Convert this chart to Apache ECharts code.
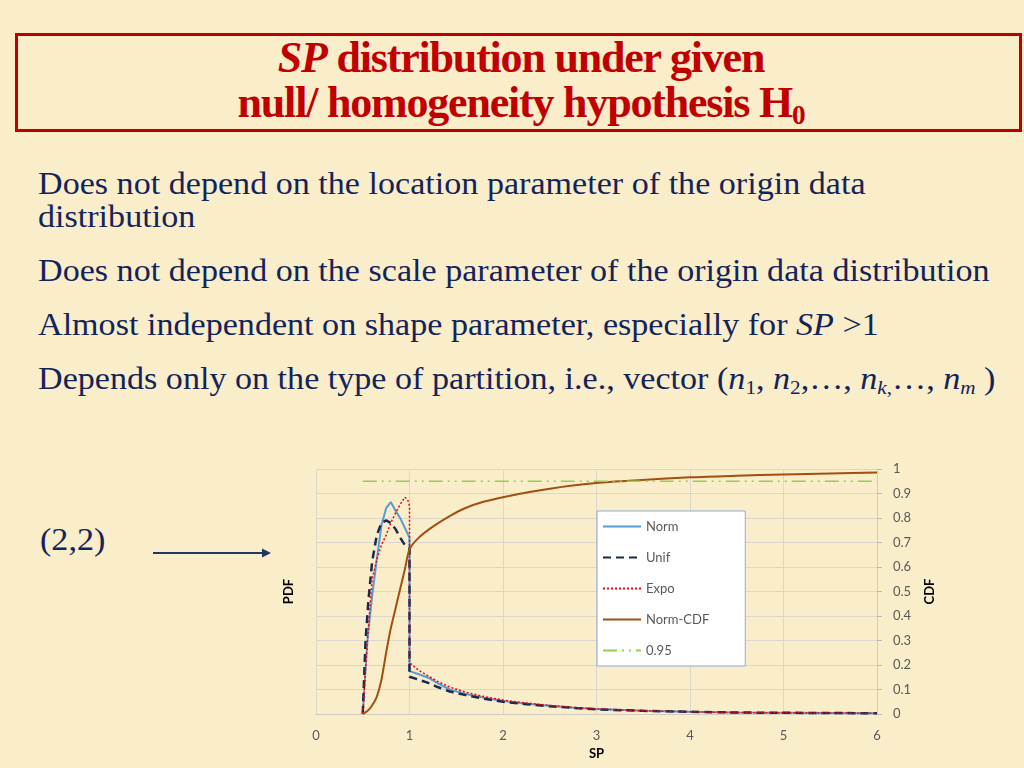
<!DOCTYPE html>
<html>
<head>
<meta charset="utf-8">
<script src="https://cdn.jsdelivr.net/npm/echarts@6/dist/echarts.min.js"></script>
<style>
html, body { margin: 0; padding: 0; }
body {
    width: 1024px; height: 768px; position: relative; overflow: hidden;
    background: #F9EDCA;
    font-family: "Liberation Serif", "Times New Roman", serif;
}
.title-box {
    position: absolute; left: 15px; top: 33px; width: 1001px; height: 93px;
    border: 3px solid #C00000;
}
.tl {
    position: absolute; left: 0; width: 1042px; text-align: center;
    font-size: 44px; font-weight: bold; color: #C00000; line-height: 1;
    letter-spacing: -1.2px; white-space: nowrap;
}
.bl {
    position: absolute; left: 38px; font-size: 31px; color: #13245A;
    line-height: 1; white-space: nowrap;
    transform: scaleX(1.1); transform-origin: 0 0;
}
sub { font-size: 0.62em; vertical-align: -0.25em; line-height: 0; }
#chart { position: absolute; left: 0; top: 440px; width: 1024px; height: 328px; }
</style>
</head>
<body>
<div class="title-box"></div>
<div class="tl" style="top:36px"><i>SP</i> distribution under given</div>
<div class="tl" style="top:81px">null/ homogeneity hypothesis H<sub>0</sub></div>

<div class="bl" style="top:168px">Does not depend on the location parameter of the origin data</div>
<div class="bl" style="top:201px">distribution</div>
<div class="bl" style="top:255px">Does not depend on the scale parameter of the origin data distribution</div>
<div class="bl" style="top:309px">Almost independent on shape parameter, especially for <i>SP</i> &gt;1</div>
<div class="bl" style="top:363px">Depends only on the type of partition, i.e., vector (<i>n</i><sub>1</sub>, <i>n</i><sub>2</sub>,…, <i>n</i><sub><i>k</i>,</sub>…, <i>n</i><sub><i>m</i></sub> )</div>

<div class="bl" style="top:524px;left:40px">(2,2)</div>
<svg style="position:absolute;left:150px;top:545px" width="125" height="16">
    <line x1="3" y1="8" x2="112" y2="8" stroke="#1F3864" stroke-width="1.8"/>
    <polygon points="112,3.5 121,8 112,12.5" fill="#1F3864"/>
</svg>

<div id="chart"></div>

<script>
// SP values and densities
var normPeakSP = [0.5, 0.55, 0.6, 0.65, 0.7, 0.75, 0.8, 0.85, 0.9, 0.95, 1.0];
var normPeak   = [0, 0.3, 0.48, 0.63, 0.77, 0.84, 0.865, 0.83, 0.80, 0.76, 0.72];
var unifPeakSP = [0.5, 0.53, 0.56, 0.6, 0.65, 0.7, 0.75, 0.8, 0.85, 0.9, 0.95, 1.0];
var unifPeak   = [0, 0.3, 0.46, 0.62, 0.73, 0.78, 0.79, 0.78, 0.755, 0.72, 0.69, 0.68];
var expoPeakSP = [0.5, 0.55, 0.6, 0.65, 0.7, 0.75, 0.8, 0.85, 0.9, 0.95, 0.98, 1.0];
var expoPeak   = [0, 0.3, 0.55, 0.63, 0.69, 0.73, 0.78, 0.82, 0.855, 0.885, 0.875, 0.85];

var tailSP   = [1.0, 1.1, 1.2, 1.3, 1.43, 1.6, 1.8, 2.0, 2.25, 2.5, 2.75, 3.0, 3.5, 4.0, 4.5, 5.0, 5.5, 6.0];
var normTail = [0.175, 0.162, 0.148, 0.126, 0.100, 0.082, 0.066, 0.053, 0.042, 0.034, 0.026, 0.020, 0.013, 0.009, 0.006, 0.005, 0.004, 0.003];
var unifTail = [0.152, 0.14, 0.127, 0.11, 0.092, 0.077, 0.062, 0.050, 0.040, 0.032, 0.025, 0.019, 0.013, 0.009, 0.006, 0.005, 0.004, 0.003];
var expoTail = [0.21, 0.178, 0.155, 0.133, 0.110, 0.089, 0.071, 0.057, 0.045, 0.035, 0.027, 0.021, 0.013, 0.009, 0.006, 0.005, 0.004, 0.003];

var cdfSP   = [0.5, 0.55, 0.6, 0.65, 0.7, 0.75, 0.8, 0.85, 0.9, 0.95, 1.0, 1.1, 1.25, 1.43, 1.6, 1.8, 2.0, 2.3, 2.7, 3.0, 3.4, 4.0, 4.5, 5.0, 5.5, 6.0];
var normCdf = [0, 0.012, 0.035, 0.07, 0.14, 0.25, 0.35, 0.43, 0.51, 0.59, 0.672, 0.72, 0.765, 0.808, 0.841, 0.867, 0.885, 0.907, 0.931, 0.943, 0.953, 0.966, 0.972, 0.978, 0.982, 0.986];

var levelSP  = [0.5, 6];
var levelVal = [0.95, 0.95];

function pairs(xs, ys) {
    var out = [];
    for (var i = 0; i < xs.length; i++) out.push([xs[i], ys[i]]);
    return out;
}

var labelFont = 'Lato, "Open Sans", sans-serif';
var gridColor = '#DCD6CB';

var myChart = echarts.init(document.getElementById('chart'));
var option = {
    animation: false,
    backgroundColor: 'transparent',
    grid: { left: 316, right: 147, top: 29, bottom: 54, outerBoundsMode: 'none' },
    legend: {
        orient: 'vertical', left: 597, top: 71,
        itemWidth: 38, itemHeight: 14, itemGap: 18,
        padding: [9, 36, 9, 5],
        backgroundColor: '#ffffff', borderColor: '#8EA9DB', borderWidth: 1, borderRadius: 0,
        itemStyle: { opacity: 0 },  // line only, no marker in the key
        textStyle: { color: '#595959', fontSize: 13, fontFamily: labelFont },
        data: ['Norm', 'Unif', 'Expo', 'Norm-CDF', '0.95']
    },
    xAxis: {
        type: 'value', min: 0, max: 6, interval: 1,
        name: 'SP', nameLocation: 'middle', nameGap: 32,
        nameTextStyle: { color: '#000', fontWeight: 'bold', fontSize: 13, fontFamily: labelFont },
        axisLine: { show: true, lineStyle: { color: '#D0CCC4' } },
        axisTick: { show: false },
        axisLabel: { color: '#595959', fontSize: 13, margin: 15, fontFamily: labelFont },
        splitLine: { show: true, lineStyle: { color: gridColor } }
    },
    yAxis: [
        {
            type: 'value', min: 0, max: 1, interval: 0.1, position: 'left',
            name: 'PDF', nameLocation: 'middle', nameGap: 21,
            nameTextStyle: { color: '#000', fontWeight: 'bold', fontSize: 13, fontFamily: labelFont },
            axisLine: { show: false }, axisTick: { show: false },
            axisLabel: { show: false }, splitLine: { show: false }
        },
        {
            type: 'value', min: 0, max: 1, interval: 0.1, position: 'right',
            name: 'CDF', nameLocation: 'middle', nameGap: 46,
            nameTextStyle: { color: '#000', fontWeight: 'bold', fontSize: 13, fontFamily: labelFont },
            axisLine: { show: true, lineStyle: { color: '#D0CCC4' } },
            axisTick: { show: true, length: 5, lineStyle: { color: '#BFBBB3' } },
            axisLabel: { color: '#595959', fontSize: 13, margin: 16, fontFamily: labelFont },
            splitLine: { show: true, lineStyle: { color: gridColor } }
        }
    ],
    series: [
        {
            name: 'Norm', type: 'line', yAxisIndex: 0, symbol: 'none',
            lineStyle: { color: '#5B9BD5', width: 2 }, itemStyle: { color: '#5B9BD5' },
            data: pairs(normPeakSP, normPeak).concat(pairs(tailSP, normTail))
        },
        {
            name: 'Unif', type: 'line', yAxisIndex: 0, symbol: 'none',
            lineStyle: { color: '#1A2A4F', width: 2.5, type: [8, 5] }, itemStyle: { color: '#1A2A4F' },
            data: pairs(unifPeakSP, unifPeak).concat(pairs(tailSP, unifTail))
        },
        {
            name: 'Expo', type: 'line', yAxisIndex: 0, symbol: 'none',
            lineStyle: { color: '#FF0000', width: 1.5, type: [2, 2] }, itemStyle: { color: '#FF0000' },
            data: pairs(expoPeakSP, expoPeak).concat(pairs(tailSP, expoTail))
        },
        {
            name: 'Norm-CDF', type: 'line', yAxisIndex: 1, symbol: 'none',
            smooth: 0.25,
            lineStyle: { color: '#A0500F', width: 2 }, itemStyle: { color: '#A0500F' },
            data: pairs(cdfSP, normCdf)
        },
        {
            name: '0.95', type: 'line', yAxisIndex: 1, symbol: 'none',
            lineStyle: { color: '#92D050', width: 1.5, type: [14, 5, 2, 5, 2, 5] }, itemStyle: { color: '#92D050' },
            data: pairs(levelSP, levelVal)
        }
    ]
};
myChart.setOption(option);
</script>
</body>
</html>
